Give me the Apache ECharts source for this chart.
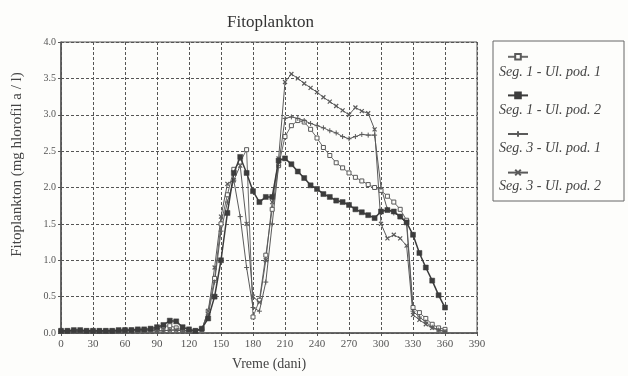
<!DOCTYPE html>
<html>
<head>
<meta charset="utf-8">
<script src="https://cdn.jsdelivr.net/npm/echarts@6/dist/echarts.min.js"></script>
<style>
  html, body { margin: 0; padding: 0; background: #fff; }
  #chart { width: 628px; height: 376px; }
</style>
</head>
<body>
<div id="chart"></div>
<script>
// dani (x), korak 6 dana
const days = [0, 6, 12, 18, 24, 30, 36, 42, 48, 54, 60, 66, 72, 78, 84, 90, 96, 102, 108, 114,
  120, 126, 132, 138, 144, 150, 156, 162, 168, 174, 180, 186, 192, 198, 204, 210, 216, 222, 228, 234,
  240, 246, 252, 258, 264, 270, 276, 282, 288, 294, 300, 306, 312, 318, 324, 330, 336, 342, 348, 354, 360]

const seg1pod1 = [0.03, 0.03, 0.03, 0.03, 0.03, 0.03, 0.03, 0.03, 0.03, 0.03, 0.04, 0.04, 0.04, 0.04, 0.05, 0.05, 0.09, 0.1, 0.07, 0.04,
  0.03, 0.03, 0.05, 0.3, 0.75, 1.5, 1.9, 2.25, 2.35, 2.52, 0.22, 0.45, 1.07, 1.7, 2.3, 2.7, 2.85, 2.92, 2.9, 2.8,
  2.68, 2.55, 2.44, 2.34, 2.27, 2.2, 2.14, 2.09, 2.04, 2.0, 1.96, 1.88, 1.8, 1.7, 1.55, 0.35, 0.28, 0.2, 0.12, 0.07, 0.05]

const seg1pod2 = [0.03, 0.03, 0.04, 0.04, 0.03, 0.03, 0.03, 0.03, 0.03, 0.04, 0.04, 0.04, 0.05, 0.05, 0.06, 0.08, 0.11, 0.17, 0.16, 0.08,
  0.05, 0.03, 0.06, 0.2, 0.5, 1.0, 1.65, 2.2, 2.42, 2.2, 1.95, 1.8, 1.87, 1.87, 2.37, 2.4, 2.32, 2.22, 2.13, 2.03,
  1.98, 1.91, 1.87, 1.82, 1.8, 1.76, 1.7, 1.66, 1.62, 1.58, 1.67, 1.69, 1.67, 1.6, 1.52, 1.35, 1.1, 0.9, 0.72, 0.52, 0.35]

const seg3pod1 = [0.02, 0.02, 0.02, 0.02, 0.02, 0.02, 0.02, 0.02, 0.02, 0.02, 0.03, 0.03, 0.03, 0.03, 0.03, 0.03, 0.03, 0.04, 0.04, 0.03,
  0.03, 0.03, 0.05, 0.25, 0.7, 1.4, 1.8, 2.1, 1.6, 0.9, 0.35, 0.3, 0.7, 1.5, 2.3, 2.95, 2.97, 2.95, 2.92, 2.88,
  2.85, 2.82, 2.78, 2.75, 2.7, 2.67, 2.7, 2.73, 2.72, 2.72, 2.0, 1.7, 1.65, 1.6, 1.5, 0.3, 0.22, 0.15, 0.08, 0.04, 0.02]

const seg3pod2 = [0.02, 0.02, 0.02, 0.02, 0.02, 0.02, 0.02, 0.02, 0.02, 0.02, 0.03, 0.03, 0.03, 0.03, 0.03, 0.03, 0.03, 0.04, 0.04, 0.03,
  0.03, 0.03, 0.05, 0.3, 0.9, 1.6, 2.05, 2.1, 2.3, 1.5, 0.5, 0.42, 1.0, 1.8, 2.4, 3.45, 3.56, 3.5, 3.43, 3.37,
  3.31, 3.24, 3.18, 3.12, 3.06, 3.0, 3.1, 3.05, 3.02, 2.8, 1.5, 1.3, 1.35, 1.3, 1.2, 0.25, 0.18, 0.12, 0.07, 0.04, 0.02]

const seriesNames = ['Seg. 1 - Ul. pod. 1', 'Seg. 1 - Ul. pod. 2', 'Seg. 3 - Ul. pod. 1', 'Seg. 3 - Ul. pod. 2']

const serif = 'Liberation Serif'
const ink = '#3c3c3c'
const plusIcon = 'path://M0,5L10,5M5,0L5,10'
const crossIcon = 'path://M0,0L10,10M10,0L0,10'

function pairs(vals) {
    return days.map((d, i) => [d, vals[i]])
}

const chart = echarts.init(document.getElementById('chart'))

const option = {
    backgroundColor: '#fdfdfb',
    animation: false,
    title: {
        text: 'Fitoplankton',
        left: 222,
        top: 9,
        textStyle: { fontFamily: serif, fontSize: 17, fontWeight: 'normal', color: '#333' }
    },
    grid: { left: 61, right: 151, top: 42, bottom: 35, show: true, borderColor: '#555', borderWidth: 1 },
    xAxis: {
        type: 'value',
        min: 0,
        max: 390,
        interval: 30,
        name: 'Vreme (dani)',
        nameLocation: 'middle',
        nameGap: 24,
        nameTextStyle: { fontFamily: serif, fontSize: 14, color: '#444' },
        axisLine: { show: true, onZero: false, lineStyle: { color: '#555', width: 1.5 } },
        axisTick: { show: true, length: 3, lineStyle: { color: '#555' } },
        axisLabel: { fontFamily: serif, fontSize: 11, color: '#555', margin: 6 },
        splitLine: { show: true, lineStyle: { color: '#555', type: [3, 2], width: 1 } }
    },
    yAxis: {
        type: 'value',
        min: 0,
        max: 4,
        interval: 0.5,
        name: 'Fitoplankton (mg hlorofil a / l)',
        nameLocation: 'middle',
        nameGap: 36,
        nameTextStyle: { fontFamily: serif, fontSize: 15, color: '#444', padding: [0, 0, 0, 46] },
        axisLine: { show: true, lineStyle: { color: '#555', width: 1.5 } },
        axisTick: { show: true, length: 3, lineStyle: { color: '#555' } },
        axisLabel: {
            fontFamily: serif, fontSize: 10, color: '#555', margin: 5,
            formatter: v => v.toFixed(1)
        },
        splitLine: { show: true, lineStyle: { color: '#555', type: [3, 2], width: 1 } }
    },
    legend: {
        orient: 'vertical',
        left: 502,
        top: 48,
        itemWidth: 20,
        itemHeight: 7,
        itemGap: 31,
        formatter: () => '',
        selectedMode: false,
        data: seriesNames
    },
    graphic: [
        {
            type: 'rect',
            shape: { x: 493, y: 41, width: 131, height: 160 },
            style: { fill: 'none', stroke: '#666', lineWidth: 1 },
            z: 10
        },
        ...seriesNames.map((n, i) => ({
            type: 'text',
            left: 499,
            top: 65 + i * 38,
            style: { text: n, font: 'italic 14px "Liberation Serif"', fill: '#444' },
            z: 10
        }))
    ],
    series: [
        {
            name: seriesNames[0],
            type: 'line',
            data: pairs(seg1pod1),
            symbol: 'rect',
            symbolSize: 4,
            showAllSymbol: true,
            lineStyle: { color: '#6a6a6a', width: 1 },
            itemStyle: { color: '#fdfdfb', borderColor: '#5a5a5a', borderWidth: 1 },
            z: 3
        },
        {
            name: seriesNames[1],
            type: 'line',
            data: pairs(seg1pod2),
            symbol: 'rect',
            symbolSize: 5,
            showAllSymbol: true,
            lineStyle: { color: ink, width: 1.5 },
            itemStyle: { color: ink, borderColor: ink, borderWidth: 0.5 },
            z: 4
        },
        {
            name: seriesNames[2],
            type: 'line',
            data: pairs(seg3pod1),
            symbol: plusIcon,
            symbolSize: 5,
            showAllSymbol: true,
            lineStyle: { color: '#5a5a5a', width: 1 },
            itemStyle: { color: '#5a5a5a', borderColor: '#5a5a5a', borderWidth: 1 },
            z: 3
        },
        {
            name: seriesNames[3],
            type: 'line',
            data: pairs(seg3pod2),
            symbol: crossIcon,
            symbolSize: 4,
            showAllSymbol: true,
            lineStyle: { color: '#5a5a5a', width: 1 },
            itemStyle: { color: '#5a5a5a', borderColor: '#5a5a5a', borderWidth: 1.2 },
            z: 3
        }
    ]
}

chart.setOption(option)
</script>
</body>
</html>
